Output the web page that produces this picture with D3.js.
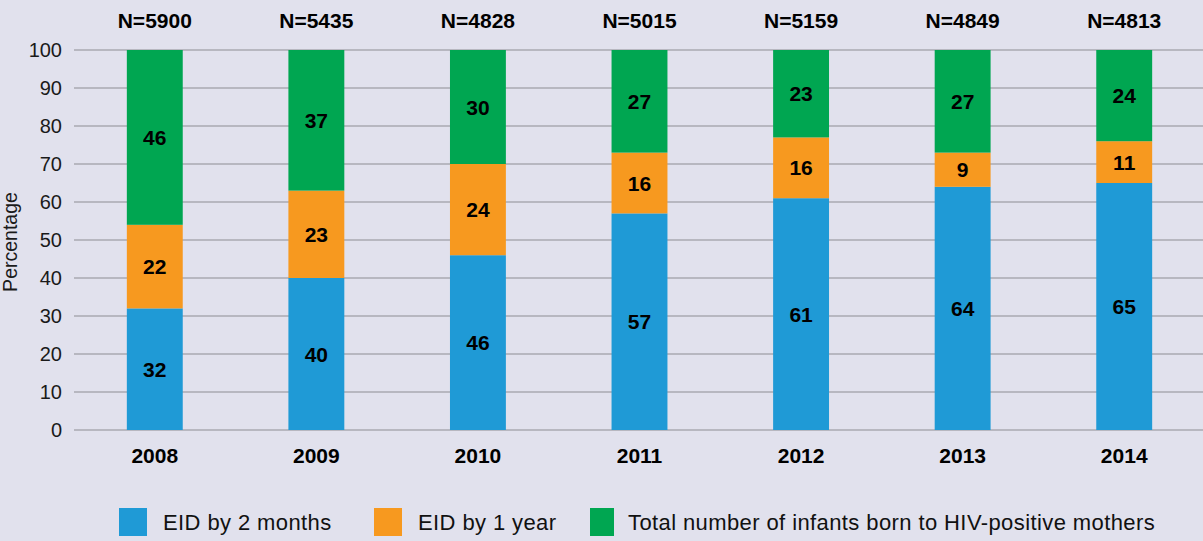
<!DOCTYPE html>
<html>
<head>
<meta charset="utf-8">
<script src="https://cdn.jsdelivr.net/npm/d3@7"></script>
<style>
  body { margin: 0; background: #e1e1ed; }
  svg { display: block; font-family: "Liberation Sans", Arial, sans-serif; }
</style>
</head>
<body>
<div id="chart"></div>
<script>
    var width = 1203,
        height = 541,
        top_ = 50,      // y of 100%
        bottom = 430,   // y of 0%
        left = 74;

    // data
    var years = ["2008", "2009", "2010", "2011", "2012", "2013", "2014"];
    var totals = [5900, 5435, 4828, 5015, 5159, 4849, 4813];
    var eid2m = [32, 40, 46, 57, 61, 64, 65];
    var eid1y = [22, 23, 24, 16, 16, 9, 11];
    var rest = [46, 37, 30, 27, 23, 27, 24];
    var seriesNames = ["EID by 2 months", "EID by 1 year", "Total number of infants born to HIV-positive mothers"];
    var colors = ["#1f9ad6", "#f7991f", "#00a651"];
    var yTicks = [0, 10, 20, 30, 40, 50, 60, 70, 80, 90, 100];

    var rows = years.map(function (y, i) {
        return { year: y, n: totals[i], a: eid2m[i], b: eid1y[i], c: rest[i] };
    });
    var stack = d3.stack().keys(["a", "b", "c"])(rows);

    var svg = d3.select("#chart").append("svg")
        .attr("width", width)
        .attr("height", height);

    var x = d3.scaleBand()
        .domain(years)
        .range([left, 1205])
        .paddingInner(0.654)
        .paddingOuter(0.327);

    var y = d3.scaleLinear()
        .domain([0, 100])
        .range([bottom, top_]);

    // gridlines
    svg.append("g")
        .selectAll("line")
        .data(yTicks)
        .enter().append("line")
        .attr("x1", left)
        .attr("x2", width)
        .attr("y1", function (d) { return y(d); })
        .attr("y2", function (d) { return y(d); })
        .style("stroke", "#a8a8b0")
        .style("stroke-width", 1.5);

    // y tick labels
    svg.append("g")
        .selectAll("text")
        .data(yTicks)
        .enter().append("text")
        .attr("x", 62)
        .attr("y", function (d) { return y(d); })
        .attr("dy", "0.36em")
        .attr("text-anchor", "end")
        .style("font-size", "20px")
        .style("fill", "#1a1a1a")
        .text(function (d) { return d; });

    svg.append("text")
        .attr("transform", "translate(17," + (y(50) + 2) + ") rotate(-90)")
        .attr("text-anchor", "middle")
        .style("font-size", "19.5px")
        .style("fill", "#1a1a1a")
        .text("Percentage");

    // bars
    var layer = svg.append("g").selectAll("g")
        .data(stack)
        .enter().append("g")
        .style("fill", function (d, i) { return colors[i]; });

    layer.selectAll("rect")
        .data(function (d) { return d; })
        .enter().append("rect")
        .attr("x", function (d) { return x(d.data.year); })
        .attr("width", x.bandwidth())
        .attr("y", function (d) { return y(d[1]); })
        .attr("height", function (d) { return y(d[0]) - y(d[1]); });

    layer.selectAll("text")
        .data(function (d) { return d; })
        .enter().append("text")
        .attr("x", function (d) { return x(d.data.year) + x.bandwidth() / 2; })
        .attr("y", function (d) { return y((d[0] + d[1]) / 2); })
        .attr("dy", "0.36em")
        .attr("text-anchor", "middle")
        .style("fill", "#000")
        .style("font-size", "21px")
        .style("font-weight", "bold")
        .text(function (d) { return d[1] - d[0]; });

    // N labels
    svg.append("g")
        .selectAll("text")
        .data(rows)
        .enter().append("text")
        .attr("x", function (d) { return x(d.year) + x.bandwidth() / 2; })
        .attr("y", 28)
        .attr("text-anchor", "middle")
        .style("font-size", "21px")
        .style("font-weight", "bold")
        .style("fill", "#000")
        .text(function (d) { return "N=" + d.n; });

    // year labels
    svg.append("g")
        .selectAll("text")
        .data(years)
        .enter().append("text")
        .attr("x", function (d) { return x(d) + x.bandwidth() / 2; })
        .attr("y", 463)
        .attr("text-anchor", "middle")
        .style("font-size", "21px")
        .style("font-weight", "bold")
        .style("fill", "#000")
        .text(function (d) { return d; });

    // legend
    var legX = [119, 374, 590];
    var leg = svg.append("g").selectAll("g")
        .data(seriesNames)
        .enter().append("g")
        .attr("transform", function (d, i) { return "translate(" + legX[i] + ",508)"; });
    leg.append("rect")
        .attr("width", function (d, i) { return i == 2 ? 24 : 28; })
        .attr("height", 28)
        .style("fill", function (d, i) { return colors[i]; });
    leg.append("text")
        .attr("x", function (d, i) { return i == 2 ? 38 : 44; })
        .attr("y", 22)
        .style("font-size", "22px")
        .style("letter-spacing", "0.4px")
        .style("fill", "#111")
        .text(function (d) { return d; });
</script>
</body>
</html>
